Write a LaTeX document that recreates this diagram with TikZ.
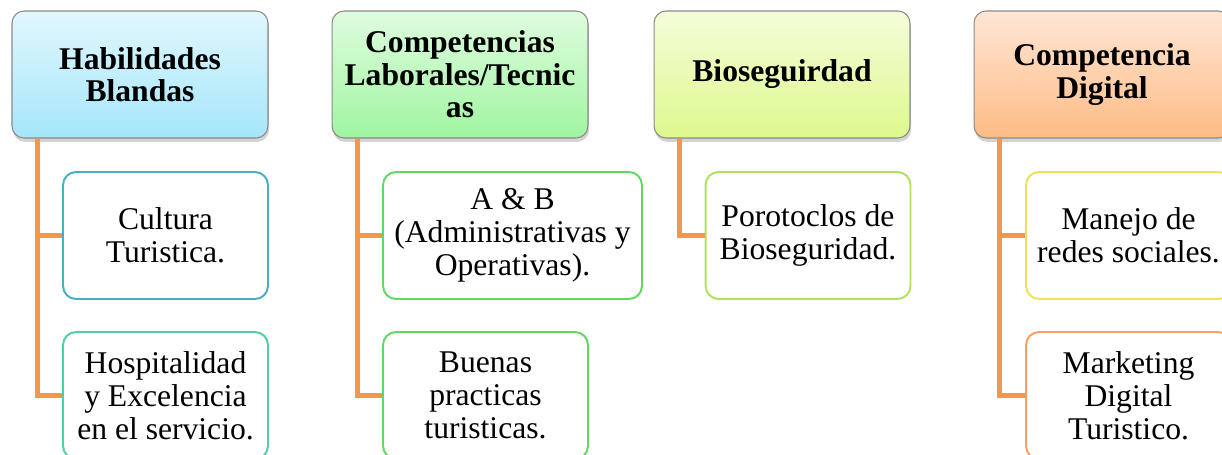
\documentclass[tikz,border=0pt]{standalone}
\usepackage{fontspec}
\setmainfont{Liberation Serif}
\usetikzlibrary{shadows,calc}
\definecolor{conncol}{HTML}{F79646}
\definecolor{headline}{HTML}{8A8A8A}
\definecolor{blueline}{HTML}{4BACC6}
\definecolor{tealline}{HTML}{4DCFA8}
\definecolor{greenline}{HTML}{62D862}
\definecolor{limeline}{HTML}{AEE35A}
\definecolor{yellowline}{HTML}{EEE058}
\definecolor{orangeline}{HTML}{F8A062}
\tikzset{
	head/.style={draw=headline,line width=0.6pt,rounded corners=0.24cm,minimum width=5.12cm,minimum height=2.54cm,align=center,font=\fontsize{18}{18.4}\selectfont\bfseries,drop shadow={shadow xshift=0.6pt,shadow yshift=-2.2pt,opacity=0.35}},
	item/.style={fill=white,line width=1.1pt,rounded corners=0.26cm,minimum width=4.1cm,minimum height=2.54cm,align=center,font=\fontsize{18}{18.7}\selectfont},
	conn/.style={draw=conncol,line width=2.8pt}
}

\begin{document}
\begin{tikzpicture}[x=0.02cm,y=-0.02cm]
		\clip (0,0) rectangle (1222,454);
		\node[head,top color={rgb,255:red,225;green,247;blue,253},bottom color={rgb,255:red,165;green,230;blue,250}] (hab) at (140,74.5) {Habilidades\\Blandas};
		\node[head,top color={rgb,255:red,223;green,252;blue,223},bottom color={rgb,255:red,160;green,245;blue,160}] (comp) at (460,74.5) {Competencias\\Laborales/Tecnic\\as};
		\node[head,top color={rgb,255:red,244;green,253;blue,217},bottom color={rgb,255:red,221;green,249;blue,142}] (bio) at (782,74.5) {Bioseguirdad};
		\node[head,top color={rgb,255:red,255;green,230;blue,214},bottom color={rgb,255:red,253;green,188;blue,133}] (dig) at (1102,74.5) {Competencia\\Digital};
		\node[item,draw=blueline] (cultura) at (165.5,235.5) {Cultura\\Turistica.};
		\node[item,draw=tealline] (hosp) at (165.5,395.5) {Hospitalidad\\y Excelencia\\en el servicio.};
		\node[item,draw=greenline,minimum width=5.18cm] (ayb) at (512.5,235.5) {A \& B\\(Administrativas y\\Operativas).};
		\node[item,draw=greenline] (buenas) at (485.5,395.5) {Buenas\\practicas\\turisticas.};
		\node[item,draw=limeline] (proto) at (808,235.5) {Porotoclos de\\Bioseguridad.};
		\node[item,draw=yellowline] (redes) at (1128.5,235.5) {Manejo de\\redes sociales.};
		\node[item,draw=orangeline] (mkt) at (1128.5,395.5) {Marketing\\Digital\\Turistico.};
		\draw[conn] ($(hab.south west)+(26,0)$) |- (cultura.west);
		\draw[conn] ($(hab.south west)+(26,0)$) |- (hosp.west);
		\draw[conn] ($(comp.south west)+(26,0)$) |- (ayb.west);
		\draw[conn] ($(comp.south west)+(26,0)$) |- (buenas.west);
		\draw[conn] ($(bio.south west)+(26,0)$) |- (proto.west);
		\draw[conn] ($(dig.south west)+(26,0)$) |- (redes.west);
		\draw[conn] ($(dig.south west)+(26,0)$) |- (mkt.west);
\end{tikzpicture}
\end{document}
